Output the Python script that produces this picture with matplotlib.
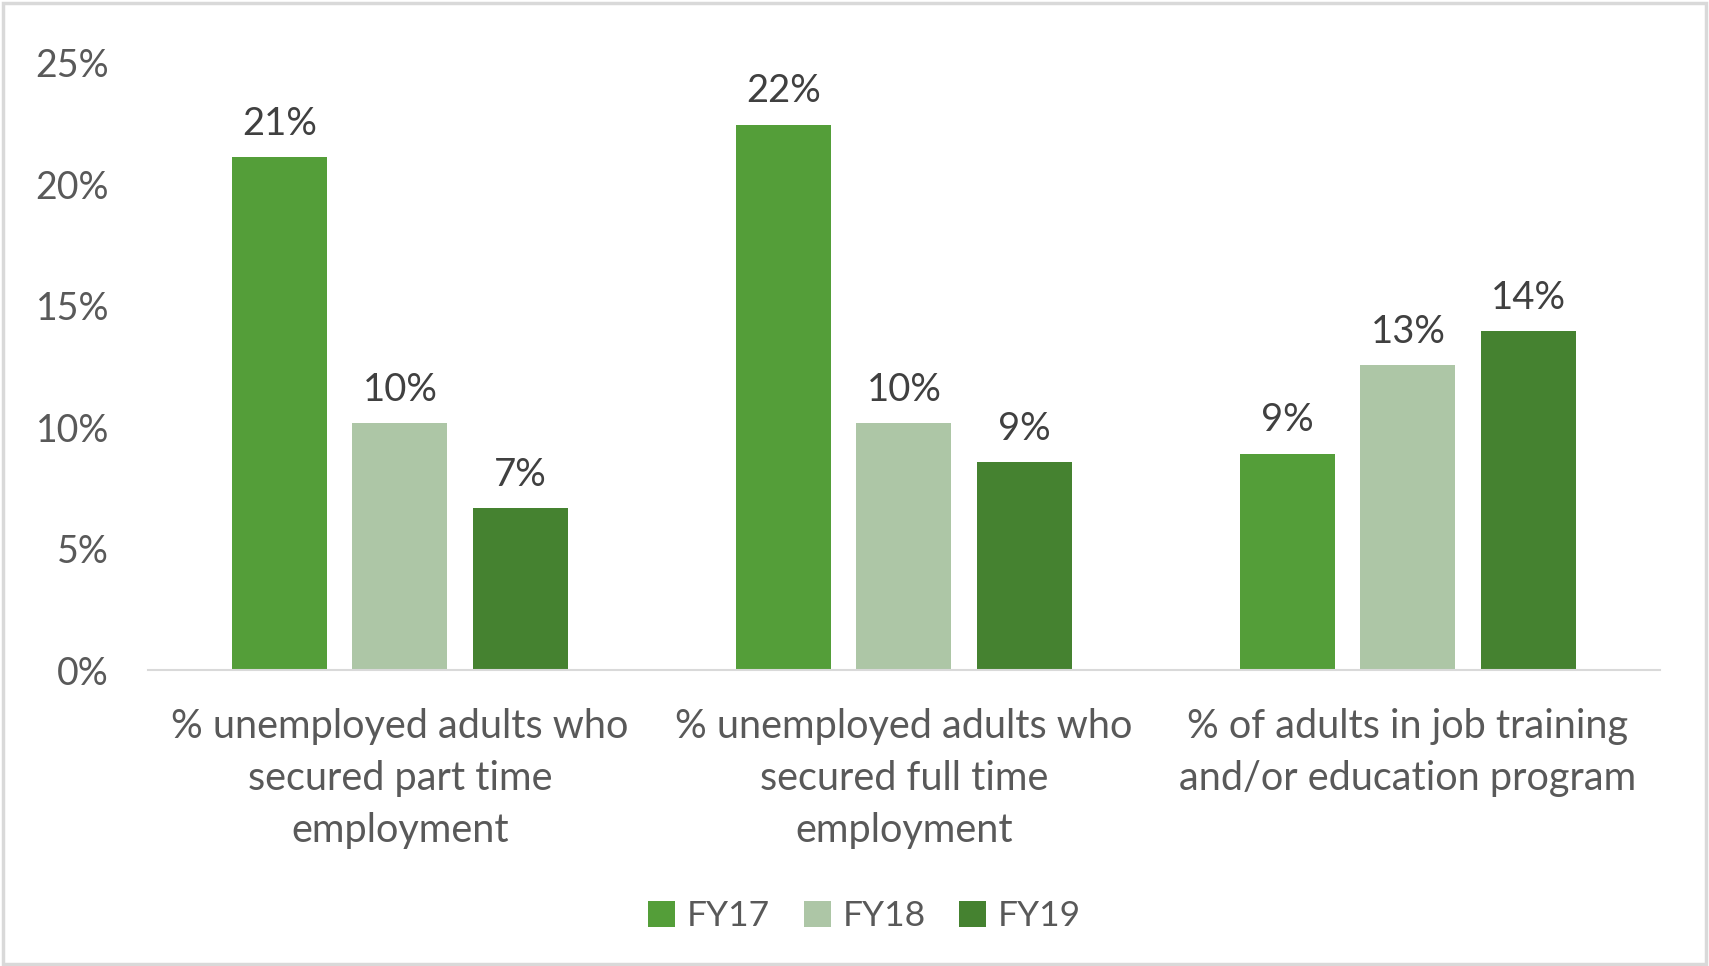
import numpy as np
import matplotlib.pyplot as plt
from matplotlib.patches import Rectangle

categories = ["% unemployed adults who\nsecured part time\nemployment",
              "% unemployed adults who\nsecured full time\nemployment",
              "% of adults in job training\nand/or education program"]
series = ["FY17", "FY18", "FY19"]
fy17 = [21.1, 22.45, 8.9]
fy18 = [10.15, 10.15, 12.55]
fy19 = [6.65, 8.55, 13.95]
labels = [["21%", "22%", "9%"], ["10%", "10%", "13%"], ["7%", "9%", "14%"]]
colors = ["#549E39", "#ADC6A6", "#458230"]

plt.rcParams['font.family'] = ['Lato', 'DejaVu Sans']

fig = plt.figure(figsize=(17.09, 9.66), dpi=100)
ax = fig.add_axes([0.0866, 0.3064, 0.8847, 0.6288])

x = np.arange(len(categories))
w = 0.1885
step = 0.239
for i, vals in enumerate([fy17, fy18, fy19]):
    bars = ax.bar(x + (i - 1) * step, vals, w, color=colors[i], label=series[i])
    for b, lab in zip(bars, labels[i]):
        ax.annotate(lab, (b.get_x() + b.get_width() / 2, b.get_height()),
                    xytext=(0, 11), textcoords='offset points',
                    ha='center', va='bottom', fontsize=27.5, color='#404040')

ax.set_xlim(-0.5, 2.5)
ax.set_ylim(0, 25)
ax.set_yticks([0, 5, 10, 15, 20, 25])
ax.set_yticklabels(["0%", "5%", "10%", "15%", "20%", "25%"], fontsize=27, color='#595959')
ax.set_xticks(x)
ax.set_xticklabels(categories, fontsize=28.5, color='#595959', linespacing=1.5)
ax.tick_params(axis='both', length=0)
ax.tick_params(axis='y', pad=28)
ax.tick_params(axis='x', pad=27)
for s in ['top', 'right', 'left']:
    ax.spines[s].set_visible(False)
ax.spines['bottom'].set_color('#D9D9D9')
ax.spines['bottom'].set_linewidth(1.5)

fig.legend(loc='center', bbox_to_anchor=(0.506, 0.0518), ncol=3, frameon=False,
           fontsize=25.5, handlelength=0.76, handleheight=0.76,
           handletextpad=0.33, columnspacing=0.95, labelcolor='#595959')

fig.patches.append(Rectangle((0.0015, 0.002), 0.997, 0.995, transform=fig.transFigure,
                             fill=False, edgecolor='#D9D9D9', linewidth=2.5))

fig.savefig("out.png", dpi=100)
